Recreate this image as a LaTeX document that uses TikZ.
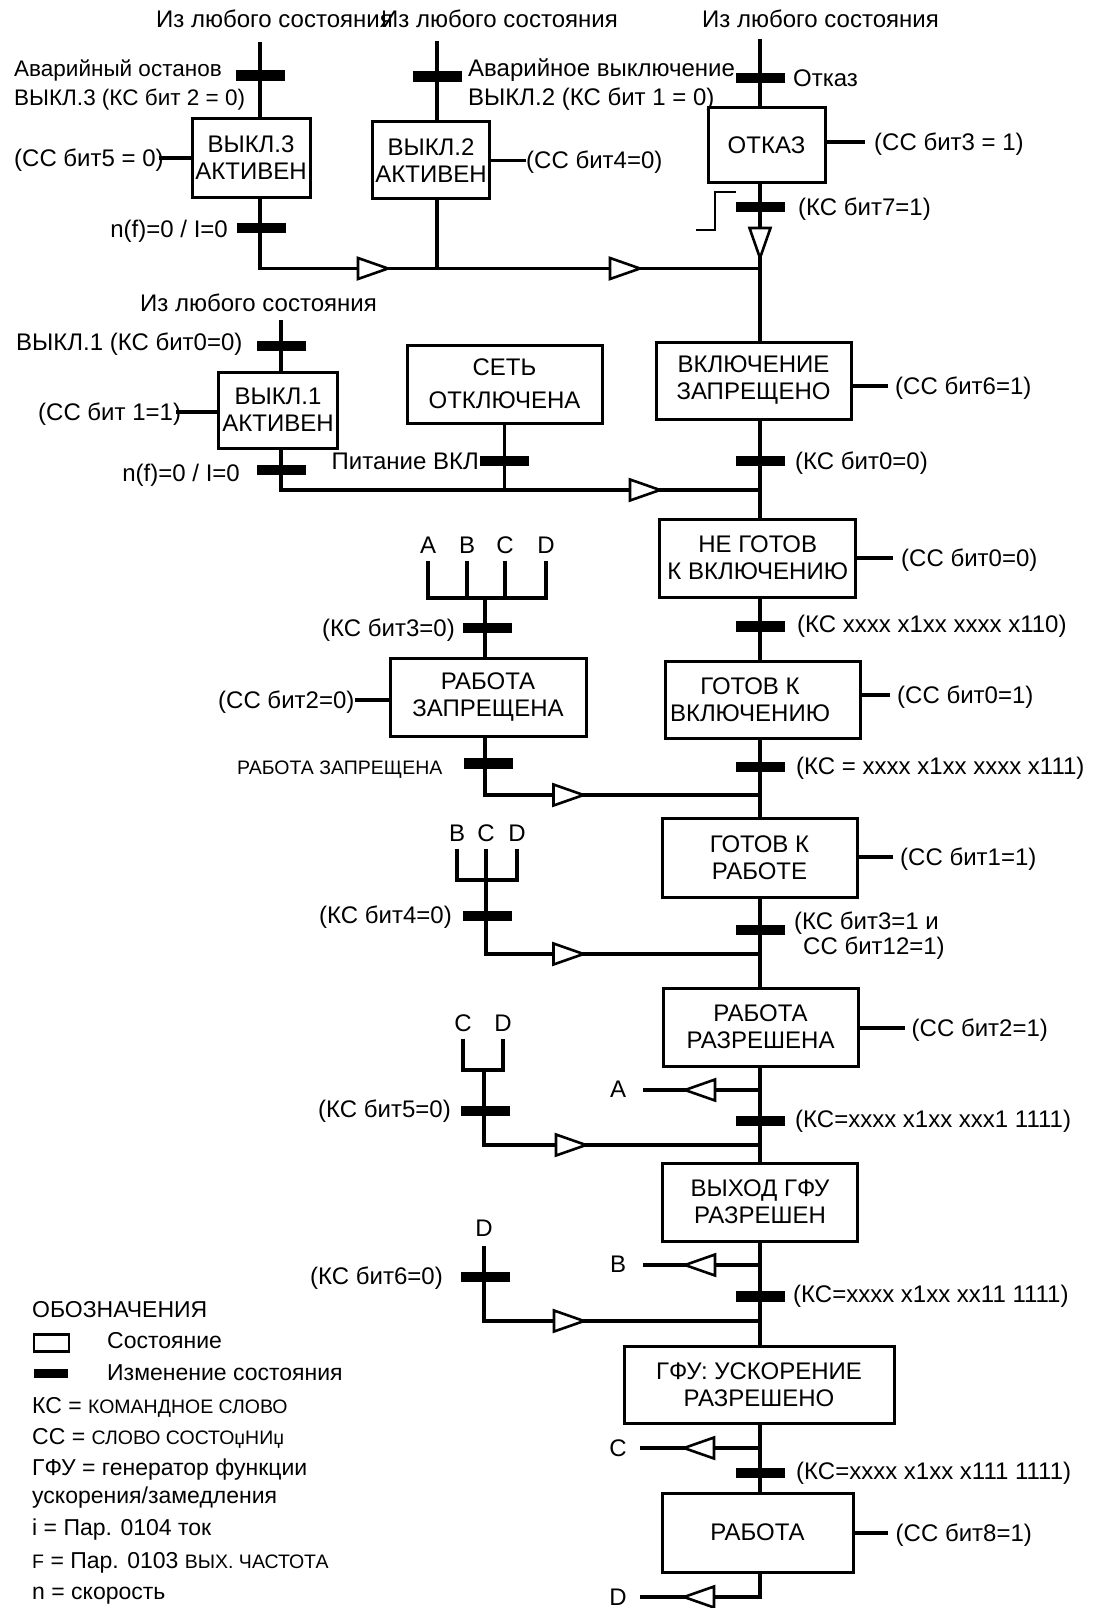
\documentclass[tikz,border=0pt]{standalone}
\usepackage{fontspec}
\setmainfont{Liberation Sans}
\newcommand\mainfs{\fontsize{24}{27}\selectfont}
\newcommand\leftfs{\fontsize{22.5}{27}\selectfont}
\newcommand\legfs{\fontsize{23}{27}\selectfont}
\newcommand\smallfs{\fontsize{19.5}{22}\selectfont}
\newcommand\midfs{\fontsize{19.5}{22}\selectfont}
\begin{document}
\begin{tikzpicture}[x=1pt,y=-1pt,
  lbl/.style={inner sep=0pt, text height=17pt, text depth=0pt, font=\mainfs},
  leg/.style={lbl, anchor=west, font=\legfs},
  stbox/.style={draw, line width=3pt, inner sep=0pt, align=center, font=\mainfs},
  bar/.style={fill=black, inner sep=0pt, minimum width=49pt, minimum height=10.5pt},
  ln/.style={line width=3.2pt, line join=miter},
  stepln/.style={line width=2pt},
  tri/.pic={\draw[line width=2.6pt, fill=white, line join=miter] (-15,-10.5) -- (15,0) -- (-15,10.5) -- cycle;}
]
\useasboundingbox (0,0) rectangle (1094,1608);
\coordinate (m) at (760,0);

% ---------- top row ----------
\node[lbl,anchor=west] (from1) at (156,19) {Из любого состояния};
\node[lbl,anchor=west] (from2) at (381,19) {Из любого состояния};
\node[lbl,anchor=west] (from3) at (702,19) {Из любого состояния};

% OFF3
\coordinate (top3) at (260,42);
\node[bar] (b3a) at (260,75.5) {};
\node[lbl,anchor=west,font=\leftfs] (t3a) at (14,68) {Аварийный останов};
\node[lbl,anchor=west,font=\leftfs] (t3b) at (14,97) {ВЫКЛ.3 (КС бит 2 = 0)};
\node[stbox,minimum width=118pt,minimum height=79pt] (off3) at (251,158) {ВЫКЛ.3\\АКТИВЕН};
\node[lbl,anchor=west] (ss5) at (14,158) {(СС бит5 = 0)};
\node[bar] (b3b) at (261,228) {};
\node[lbl,anchor=east] (t3c) at (228,229) {n(f)=0 / I=0};
\coordinate (j1) at (260,268.5);

% OFF2
\coordinate (top2) at (437,41);
\node[bar] (b2a) at (437.5,76.5) {};
\node[lbl,anchor=west] (t2a) at (468,68) {Аварийное выключение};
\node[lbl,anchor=west] (t2b) at (468,97) {ВЫКЛ.2 (КС бит 1 = 0)};
\node[stbox,minimum width=117.5pt,minimum height=77pt] (off2) at (431,160.5) {ВЫКЛ.2\\АКТИВЕН};
\node[lbl,anchor=west] (ss4) at (526,160.5) {(СС бит4=0)};
\coordinate (j2) at (437,268.5);

% FAULT
\coordinate (top1) at (760,39);
\node[bar] (b1a) at (760,78) {};
\node[lbl,anchor=west] (t1a) at (793,78) {Отказ};
\node[stbox,minimum width=117pt,minimum height=75pt] (fault) at (766.5,145) {ОТКАЗ};
\node[lbl,anchor=west] (ss3) at (874,142) {(СС бит3 = 1)};
\node[bar] (b1b) at (760,207) {};
\node[lbl,anchor=west] (t1b) at (798,207) {(КС бит7=1)};
\coordinate (jm1) at (760,268.5);

% ---------- second row ----------
\node[lbl,anchor=west] (from4) at (140,303) {Из любого состояния};
\coordinate (top4) at (281,320);
\node[bar] (b4a) at (281.5,346) {};
\node[lbl,anchor=west] (t4a) at (16,342) {ВЫКЛ.1 (КС бит0=0)};
\node[stbox,minimum width=118.5pt,minimum height=76pt] (off1) at (278,410) {ВЫКЛ.1\\АКТИВЕН};
\node[lbl,anchor=west] (ss1) at (38,412) {(СС бит 1=1)};
\node[bar] (b4b) at (281.5,470) {};
\node[lbl,anchor=east] (t4b) at (240,473) {n(f)=0 / I=0};
\coordinate (j3) at (281,490);
\node[stbox,minimum width=195pt,minimum height=78pt] (net) at (504.5,384) {СЕТЬ\\[6pt]ОТКЛЮЧЕНА};
\node[bar] (bn) at (504,461) {};
\node[lbl,anchor=east] (tn) at (479,461) {Питание ВКЛ};
\coordinate (j4) at (504.5,490);
\coordinate (jm2) at (760,490);

% ---------- main column ----------
\node[stbox,minimum width=195pt,minimum height=77pt] (vkl) at (753.5,380.5) {ВКЛЮЧЕНИЕ\\ЗАПРЕЩЕНО};
\node[lbl,anchor=west] (ss6) at (895,386) {(СС бит6=1)};
\node[bar] (bm1) at (760,461) {};
\node[lbl,anchor=west] (k1) at (795,461) {(КС бит0=0)};
\node[stbox,minimum width=195.5pt,minimum height=78pt] (ng) at (757.7,558) {НЕ ГОТОВ\\К ВКЛЮЧЕНИЮ};
\node[lbl,anchor=west] (ss0a) at (901,558) {(СС бит0=0)};
\node[bar] (bm2) at (760,626.5) {};
\node[lbl,anchor=west] (k2) at (797,624) {(КС xxxx x1xx xxxx x110)};
\node[stbox,minimum width=195pt,minimum height=77pt] (rdy) at (762.5,699.5) {};
\node[align=center,inner sep=0pt,font=\mainfs] (rdyt) at (750,700) {ГОТОВ К\\ВКЛЮЧЕНИЮ};
\node[lbl,anchor=west] (ss0b) at (897,695) {(СС бит0=1)};
\node[bar] (bm3) at (760,767) {};
\node[lbl,anchor=west] (k3) at (796,766) {(КС = xxxx x1xx xxxx x111)};
\coordinate (jm3) at (760,795);
\node[stbox,minimum width=195pt,minimum height=79pt] (rop) at (759.5,857.5) {ГОТОВ К\\РАБОТЕ};
\node[lbl,anchor=west] (ss1b) at (900,857) {(СС бит1=1)};
\node[bar] (bm4) at (760,930) {};
\node[lbl,anchor=west] (k4a) at (794,921) {(КС бит3=1 и};
\node[lbl,anchor=west] (k4b) at (803,946) {СС бит12=1)};
\coordinate (jm4) at (760,954);
\node[stbox,minimum width=195pt,minimum height=78pt] (ren) at (760.5,1027) {РАБОТА\\РАЗРЕШЕНА};
\node[lbl,anchor=west] (ss2b) at (911.5,1028) {(СС бит2=1)};
\coordinate (ja) at (760,1090);
\coordinate (ea) at (643,1090);
\node[lbl] (la) at (618,1089) {A};
\node[bar] (bm5) at (760,1121) {};
\node[lbl,anchor=west] (k5) at (795,1119) {(КС=xxxx x1xx xxx1 1111)};
\coordinate (jm5) at (760,1145);
\node[stbox,minimum width=195pt,minimum height=78pt] (rfg) at (760,1202) {ВЫХОД ГФУ\\РАЗРЕШЕН};
\coordinate (jb) at (760,1265);
\coordinate (eb) at (643,1265);
\node[lbl] (lb) at (618,1264) {B};
\node[bar] (bm6) at (760,1296.5) {};
\node[lbl,anchor=west] (k6) at (793,1294) {(КС=xxxx x1xx xx11 1111)};
\coordinate (jm6) at (760,1321);
\node[stbox,minimum width=270pt,minimum height=77pt] (acc) at (759,1384.5) {ГФУ: УСКОРЕНИЕ\\РАЗРЕШЕНО};
\coordinate (jc) at (760,1448);
\coordinate (ec) at (640,1448);
\node[lbl] (lc) at (618,1448) {C};
\node[bar] (bm7) at (760,1473) {};
\node[lbl,anchor=west] (k7) at (796,1471) {(КС=xxxx x1xx x111 1111)};
\node[stbox,minimum width=191pt,minimum height=79pt] (run) at (757.5,1532.5) {РАБОТА};
\node[lbl,anchor=west] (ss8) at (895.5,1533) {(СС бит8=1)};
\coordinate (jd) at (760,1597);
\coordinate (ed) at (640,1597);
\node[lbl] (ld) at (618,1597) {D};

% ---------- left branches ----------
\node[lbl] (la1) at (428,545) {A};
\node[lbl] (lb1) at (467,545) {B};
\node[lbl] (lc1) at (505,545) {C};
\node[lbl] (ld1) at (546,545) {D};
\coordinate (h1) at (485,598);
\node[bar] (bl1) at (487.5,628) {};
\node[lbl,anchor=west] (kl1) at (322,628) {(КС бит3=0)};
\node[stbox,minimum width=196pt,minimum height=78pt] (rz) at (488,697) {РАБОТА\\ЗАПРЕЩЕНА};
\node[lbl,anchor=west] (ss2a) at (218,700) {(СС бит2=0)};
\node[bar] (bl2) at (488,763.5) {};
\node[lbl,anchor=west,font=\midfs,text height=14pt] (tl2) at (237,767) {РАБОТА ЗАПРЕЩЕНА};
\coordinate (jl1) at (485,795);

\node[lbl] (lb2) at (457,833) {B};
\node[lbl] (lc2) at (486,833) {C};
\node[lbl] (ld2) at (517,833) {D};
\coordinate (h2) at (486,880);
\node[bar] (bl3) at (487,916) {};
\node[lbl,anchor=west] (kl3) at (319,915) {(КС бит4=0)};
\coordinate (jl2) at (486,954);

\node[lbl] (lc3) at (463,1023) {C};
\node[lbl] (ld3) at (503,1023) {D};
\coordinate (h3) at (484,1070);
\node[bar] (bl4) at (485,1111) {};
\node[lbl,anchor=west] (kl4) at (318,1109) {(КС бит5=0)};
\coordinate (jl3) at (484,1145);

\node[lbl] (ld4) at (484,1228) {D};
\node[bar] (bl5) at (485,1277) {};
\node[lbl,anchor=west] (kl5) at (310,1276) {(КС бит6=0)};
\coordinate (jl4) at (484,1321);

% ---------- legend ----------
\node[leg] (lg0) at (32,1309) {ОБОЗНАЧЕНИЯ};
\node[draw,line width=2.2pt,inner sep=0pt,minimum width=35pt,minimum height=17pt] (lgbox) at (51.5,1343) {};
\node[leg] (lg1) at (107,1340) {Состояние};
\node[fill=black,inner sep=0pt,minimum width=34pt,minimum height=8.5pt] (lgbar) at (51,1373.5) {};
\node[leg] (lg2) at (107,1372) {Изменение состояния};
\node[leg] (lg3) at (32,1405) {КС = {\smallfs КОМАНДНОЕ СЛОВО}};
\node[leg] (lg4) at (32,1436) {СС = {\smallfs СЛОВО СОСТОџНИџ}};
\node[leg] (lg5) at (32,1467) {ГФУ = генератор функции};
\node[leg] (lg6) at (32,1495) {ускорения/замедления};
\node[leg] (lg7) at (32,1527) {i = Пар. 0104 ток};
\node[leg] (lg8) at (32,1560) {{\smallfs F} = Пар. 0103 {\smallfs ВЫХ. ЧАСТОТА}};
\node[leg] (lg9) at (32,1591) {n = скорость};

% ---------- connectors ----------
% top block
\draw[ln] (top3) -- (top3 |- off3.north);
\draw[ln] (top3 |- off3.south) -- (j1) -- (jm1);
\draw[ln] ([xshift=-5pt]ss5.east) -- (ss5.east -| off3.west);
\draw[ln] (top2) -- (top2 |- off2.north);
\draw[ln] (top2 |- off2.south) -- (j2);
\draw[ln] (off2.east) -- (off2.east -| ss4.west);
\draw[ln] (top1) -- (top1 |- fault.north);
\draw[ln] (fault.south -| m) -- (vkl.north -| m);
\draw[ln] (fault.east |- ss3.west) -- ([xshift=-9pt]ss3.west);
\draw[stepln] (736,192) -- (715,192) -- (715,230) -- (695.5,230);

% second block
\draw[ln] (top4) -- (top4 |- off1.north);
\draw[ln] (top4 |- off1.south) -- (j3) -- (jm2);
\draw[ln] ([xshift=-5pt]ss1.east) -- (ss1.east -| off1.west);
\draw[ln] (net.south) -- (j4);

% main column
\draw[ln] (vkl.east |- ss6.west) -- ([xshift=-7pt]ss6.west);
\draw[ln] (vkl.south -| m) -- (ng.north -| m);
\draw[ln] (ng.east |- ss0a.west) -- ([xshift=-8pt]ss0a.west);
\draw[ln] (ng.south -| m) -- (rdy.north -| m);
\draw[ln] (rdy.east |- ss0b.west) -- ([xshift=-7pt]ss0b.west);
\draw[ln] (rdy.south -| m) -- (rop.north -| m);
\draw[ln] (rop.east |- ss1b.west) -- ([xshift=-7pt]ss1b.west);
\draw[ln] (rop.south -| m) -- (ren.north -| m);
\draw[ln] (ren.east |- ss2b.west) -- ([xshift=-7pt]ss2b.west);
\draw[ln] (ren.south -| m) -- (rfg.north -| m);
\draw[ln] (ja) -- (ea);
\draw[ln] (rfg.south -| m) -- (acc.north -| m);
\draw[ln] (jb) -- (eb);
\draw[ln] (acc.south -| m) -- (run.north -| m);
\draw[ln] (jc) -- (ec);
\draw[ln] (run.east |- ss8.west) -- ([xshift=-8pt]ss8.west);
\draw[ln] (run.south -| m) -- (jd) -- (ed);

% left branch 1
\draw[ln] ([yshift=-7pt]la1.south) -- (la1.south |- h1) -- (ld1.south |- h1) -- ([yshift=-7pt]ld1.south);
\draw[ln] ([yshift=-7pt]lb1.south) -- (lb1.south |- h1);
\draw[ln] ([yshift=-7pt]lc1.south) -- (lc1.south |- h1);
\draw[ln] (h1) -- (h1 |- rz.north);
\draw[ln] (ss2a.east) -- (ss2a.east -| rz.west);
\draw[ln] (rz.south -| h1) -- (jl1) -- (jm3);
% left branch 2
\draw[ln] ([yshift=-7pt]lb2.south) -- (lb2.south |- h2) -- (ld2.south |- h2) -- ([yshift=-7pt]ld2.south);
\draw[ln] ([yshift=-7pt]lc2.south) -- (jl2) -- (jm4);
% left branch 3
\draw[ln] ([yshift=-7pt]lc3.south) -- (lc3.south |- h3) -- (ld3.south |- h3) -- ([yshift=-7pt]ld3.south);
\draw[ln] (h3) -- (jl3) -- (jm5);
% left branch 4
\draw[ln] ([yshift=-9pt]ld4.south) -- (jl4) -- (jm6);

% ---------- arrow triangles ----------
\pic at (373,268.5) {tri};
\pic at (625,268.5) {tri};
\pic[rotate=-90] at (760,243) {tri};
\pic at (645,490) {tri};
\pic at (568.5,795) {tri};
\pic at (568.5,954) {tri};
\pic at (571,1145) {tri};
\pic at (569,1321) {tri};
\pic[rotate=180] at (700,1090) {tri};
\pic[rotate=180] at (700,1265) {tri};
\pic[rotate=180] at (699,1448) {tri};
\pic[rotate=180] at (699,1597) {tri};
\end{tikzpicture}
\end{document}
